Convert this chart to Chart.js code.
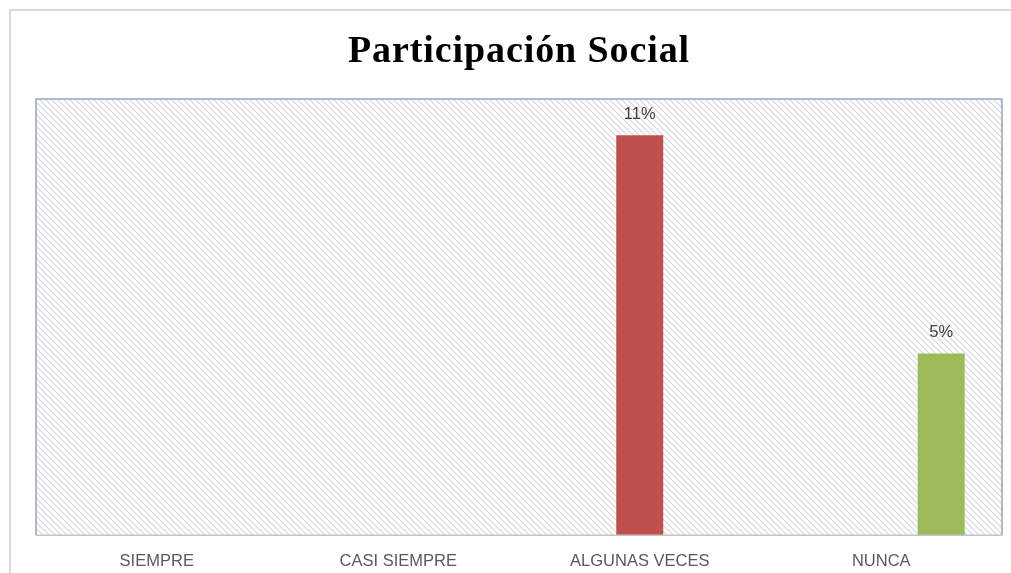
<!DOCTYPE html>
<html>
<head>
<meta charset="utf-8">
<script src="https://cdn.jsdelivr.net/npm/chart.js@4.4.1/dist/chart.umd.min.js"></script>
<style>
  html, body { margin: 0; padding: 0; background: #fff; }
  #wrap { width: 1011px; height: 573px; position: relative; }
</style>
</head>
<body>
<div id="wrap"><canvas id="chart"></canvas></div>
<script>
  "use strict";

  const categories = ["SIEMPRE", "CASI SIEMPRE", "ALGUNAS VECES", "NUNCA"];
  const serie1 = [null, null, null, null];
  const serie2 = [null, null, 11, null];
  const serie3 = [null, null, null, 5];
  const yMax = 12;
  const titleText = "Participación Social";

  const makeHatch = (ctx) => {
    const s = 6;
    const tile = document.createElement("canvas");
    tile.width = s;
    tile.height = s;
    const t = tile.getContext("2d");
    t.fillStyle = "#ffffff";
    t.fillRect(0, 0, s, s);
    t.strokeStyle = "#d6d6d6";
    t.lineWidth = 1.2;
    t.beginPath();
    t.moveTo(-1, -1);
    t.lineTo(s + 1, s + 1);
    t.moveTo(-1, s - 1);
    t.lineTo(1, s + 1);
    t.moveTo(s - 1, -1);
    t.lineTo(s + 1, 1);
    t.stroke();
    return ctx.createPattern(tile, "repeat");
  };

  const frame = {
    id: "frame",
    beforeDraw(chart) {
      const { ctx, chartArea: a } = chart;
      ctx.save();
      ctx.strokeStyle = "#d9d9d9";
      ctx.lineWidth = 2;
      ctx.strokeRect(10, 10, 1100, 700);
      ctx.fillStyle = makeHatch(ctx);
      ctx.fillRect(a.left, a.top, a.right - a.left, a.bottom - a.top);

      // title, drawn by hand for letter spacing
      ctx.fillStyle = "#000000";
      ctx.font = "bold 38px 'Liberation Serif', serif";
      ctx.letterSpacing = "0.9px";
      ctx.textAlign = "center";
      ctx.textBaseline = "alphabetic";
      ctx.fillText(titleText, 519, 62);
      ctx.restore();
    },
    afterDatasetsDraw(chart) {
      const { ctx, chartArea: a } = chart;
      ctx.save();
      ctx.lineWidth = 1.5;
      ctx.strokeStyle = "#95a5c3";
      ctx.beginPath();
      ctx.moveTo(a.left, a.bottom);
      ctx.lineTo(a.left, a.top);
      ctx.lineTo(a.right, a.top);
      ctx.lineTo(a.right, a.bottom);
      ctx.stroke();
      ctx.strokeStyle = "#c4c4c4";
      ctx.beginPath();
      ctx.moveTo(a.left, a.bottom);
      ctx.lineTo(a.right, a.bottom);
      ctx.stroke();

      ctx.fillStyle = "#404040";
      ctx.font = "16.5px 'Liberation Sans', sans-serif";
      ctx.textAlign = "center";
      ctx.textBaseline = "middle";
      chart.data.datasets.forEach((ds, i) => {
        chart.getDatasetMeta(i).data.forEach((bar, j) => {
          const v = ds.data[j];
          if (v === null || v === undefined) return;
          ctx.fillText(`${v}%`, bar.x, bar.y - 21);
        });
      });
      ctx.restore();
    }
  };

  new Chart(document.getElementById("chart"), {
    type: "bar",
    data: {
      labels: categories,
      datasets: [
        { label: "Serie1", data: serie1, backgroundColor: "#4f81bd" },
        { label: "Serie2", data: serie2, backgroundColor: "#c0504d" },
        { label: "Serie3", data: serie3, backgroundColor: "#9bbb59" }
      ]
    },
    options: {
      responsive: true,
      maintainAspectRatio: false,
      animation: false,
      categoryPercentage: 0.745,
      barPercentage: 0.783,
      layout: { padding: { left: 36, right: 9, top: 99, bottom: -14 } },
      plugins: {
        legend: { display: false },
        tooltip: { enabled: false },
        title: { display: false }
      },
      scales: {
        x: {
          grid: { display: false, drawTicks: false },
          border: { display: false },
          ticks: { color: "#595959", font: { family: "'Liberation Sans', sans-serif", size: 16.5 }, padding: 16, maxRotation: 0 }
        },
        y: {
          display: false,
          min: 0,
          max: yMax
        }
      }
    },
    plugins: [frame]
  });
</script>
</body>
</html>
